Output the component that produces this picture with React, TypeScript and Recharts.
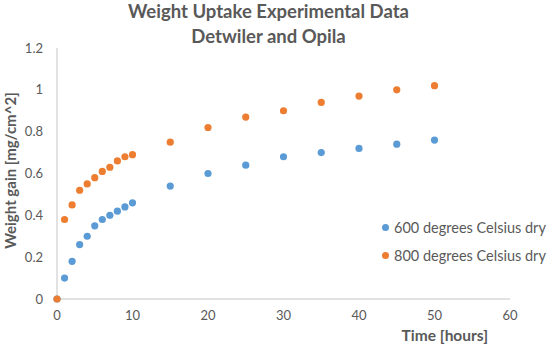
import React from 'react';
import { ScatterChart, Scatter, XAxis, YAxis } from 'recharts';

const hours600 = [0, 1, 2, 3, 4, 5, 6, 7, 8, 9, 10, 15, 20, 25, 30, 35, 40, 45, 50];
const gain600 = [0, 0.1, 0.18, 0.26, 0.3, 0.35, 0.38, 0.4, 0.42, 0.44, 0.46, 0.54, 0.6, 0.64, 0.68, 0.7, 0.72, 0.74, 0.76];
const hours800 = [0, 1, 2, 3, 4, 5, 6, 7, 8, 9, 10, 15, 20, 25, 30, 35, 40, 45, 50];
const gain800 = [0, 0.38, 0.45, 0.52, 0.55, 0.58, 0.61, 0.63, 0.66, 0.68, 0.69, 0.75, 0.82, 0.87, 0.9, 0.94, 0.97, 1.0, 1.02];
const xTicks = [0, 10, 20, 30, 40, 50, 60];
const yTicks = [0, 0.2, 0.4, 0.6, 0.8, 1, 1.2];
const seriesNames = ['600 degrees Celsius dry', '800 degrees Celsius dry'];
const colors = ['#5B9BD5', '#ED7D31'];

const data600 = hours600.map((h, i) => ({ x: h, y: gain600[i] }));
const data800 = hours800.map((h, i) => ({ x: h, y: gain800[i] }));

const FONT = 'Lato, "Open Sans", sans-serif';
const TEXT = '#595959';

const Dot = (color: string) => (props: any) => (
  <circle cx={props.cx} cy={props.cy} r={3.6} fill={color} />
);

export default function App() {
  return (
    <div style={{ position: 'absolute', left: 0, top: 0, width: 550, height: 346, background: '#fff' }}>
      <div style={{ position: 'absolute', left: 0, top: -1, width: 537, textAlign: 'center', fontFamily: FONT, fontWeight: 700, fontSize: 18.5, color: TEXT, lineHeight: '25px', zIndex: 2 }}>
        <div>Weight Uptake Experimental Data</div>
        <div>Detwiler and Opila</div>
      </div>
      <div style={{ position: 'absolute', left: 382, top: 213, width: 170, fontFamily: FONT, fontSize: 14.5, color: TEXT, zIndex: 2 }}>
        {seriesNames.map((n, i) => (
          <div key={n} style={{ display: 'flex', alignItems: 'center', height: 28, whiteSpace: 'nowrap' }}>
            <span style={{ width: 7, height: 7, borderRadius: 4, background: colors[i], display: 'inline-block', marginRight: 5 }} />
            <span>{n}</span>
          </div>
        ))}
      </div>
      <ScatterChart width={550} height={346} margin={{ top: 48, right: 40, bottom: 0, left: 0 }} style={{ position: 'absolute', left: 0, top: 0 }}>
        <XAxis
          type="number"
          dataKey="x"
          domain={[0, 60]}
          ticks={xTicks}
          tickLine={false}
          tickMargin={6}
          axisLine={{ stroke: '#D9D9D9', strokeWidth: 1.5 }}
          tick={{ fill: TEXT, fontSize: 13, fontFamily: FONT }}
          height={47}
          label={{ value: 'Time [hours]', position: 'insideBottomRight', offset: 0, dx: -22, dy: -5, style: { fontFamily: FONT, fontWeight: 700, fontSize: 15.5, fill: TEXT } }}
        />
        <YAxis
          type="number"
          dataKey="y"
          domain={[0, 1.2]}
          ticks={yTicks}
          tickLine={false}
          tickMargin={8}
          width={57}
          axisLine={{ stroke: '#D9D9D9', strokeWidth: 1.5 }}
          tick={{ fill: TEXT, fontSize: 13, fontFamily: FONT }}
          label={{ value: 'Weight gain [mg/cm^2]', angle: -90, position: 'insideLeft', offset: 11, dy: -3, style: { textAnchor: 'middle', fontFamily: FONT, fontWeight: 700, fontSize: 15, fill: TEXT } }}
        />
        <Scatter name={seriesNames[0]} data={data600} fill={colors[0]} shape={Dot(colors[0])} isAnimationActive={false} />
        <Scatter name={seriesNames[1]} data={data800} fill={colors[1]} shape={Dot(colors[1])} isAnimationActive={false} />
      </ScatterChart>
    </div>
  );
}
